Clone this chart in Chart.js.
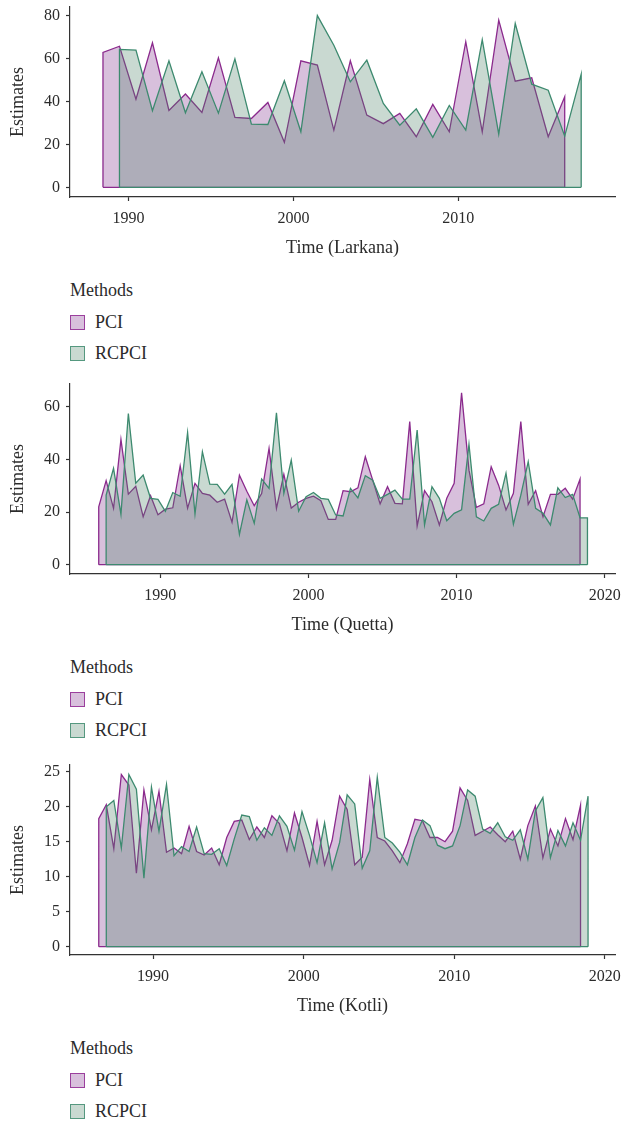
<!DOCTYPE html>
<html>
<head>
<meta charset="utf-8">
<script src="https://cdn.jsdelivr.net/npm/chart.js@4/dist/chart.umd.min.js"></script>
<style>
  body { margin: 0; background: #fff; font-family: "Liberation Serif", serif; color: #2b2b2b; }
  #page { position: relative; width: 622px; height: 1123px; overflow: hidden; }
  canvas { position: absolute; left: 0; }
  .row { position: absolute; left: 70px; height: 22px; line-height: 22px; font-size: 18px; display: flex; align-items: center; white-space: nowrap; }
  .key { width: 13px; height: 13px; border: 1.6px solid; margin-right: 10px; }
  .key.pci { background: rgb(216,192,220); border-color: #9b3f9d; }
  .key.rcpci { background: rgb(201,217,209); border-color: #55987f; }
</style>
</head>
<body>
<div id="page">
  <canvas id="larkana" width="622" height="259" style="top:0px"></canvas>
  <canvas id="quetta" width="622" height="259" style="top:377px"></canvas>
  <canvas id="kotli" width="622" height="259" style="top:758px"></canvas>

  <div class="row" style="top:279px">Methods</div>
  <div class="row" style="top:311px"><span class="key pci"></span>PCI</div>
  <div class="row" style="top:342px"><span class="key rcpci"></span>RCPCI</div>

  <div class="row" style="top:656px">Methods</div>
  <div class="row" style="top:688px"><span class="key pci"></span>PCI</div>
  <div class="row" style="top:719px"><span class="key rcpci"></span>RCPCI</div>

  <div class="row" style="top:1037px">Methods</div>
  <div class="row" style="top:1069px"><span class="key pci"></span>PCI</div>
  <div class="row" style="top:1100px"><span class="key rcpci"></span>RCPCI</div>
</div>
<script>
// Larkana, yearly
const larkanaPCI = [62.9, 65.8, 41.1, 67.4, 35.9, 43.5, 34.9, 60.4, 32.6, 32.1, 39.6, 21.0, 59.0, 57.0, 26.7,
  59.0, 33.7, 29.7, 34.5, 23.6, 38.7, 25.9, 67.9, 25.9, 78.0, 49.5, 51.1, 23.6, 42.2]
const larkanaRCPCI = [64.3, 64.0, 35.7, 59.0, 34.8, 53.9, 34.6, 59.9, 29.5, 29.3, 49.7, 25.9, 80.1, 66.3, 49.2,
  59.3, 39.1, 29.0, 36.6, 23.3, 38.2, 26.7, 68.9, 24.8, 76.4, 48.1, 45.3, 23.9, 52.8]

// Quetta, half-yearly
const quettaPCI = [22.0, 31.9, 21.4, 47.6, 26.8, 29.8, 18.2, 26.2, 19.0, 21.1, 21.6, 37.6, 21.5, 30.9, 27.1, 26.4,
  23.7, 24.9, 16.1, 34.0, 27.9, 22.4, 27.0, 44.2, 21.4, 34.3, 21.5, 23.7, 25.2, 26.0, 24.3, 17.2, 17.2, 28.1,
  27.7, 29.2, 41.0, 32.1, 23.1, 29.6, 23.3, 23.1, 54.3, 14.7, 28.1, 23.9, 15.1, 25.2, 30.9, 65.3, 35.9, 21.8,
  23.1, 37.2, 30.2, 20.8, 27.1, 54.3, 22.9, 28.1, 18.2, 26.7, 26.7, 29.0, 24.9, 32.5]
const quettaRCPCI = [26.4, 36.6, 19.1, 57.4, 30.9, 34.0, 25.2, 24.8, 20.3, 27.4, 26.0, 50.2, 19.2, 42.9, 30.6,
  30.5, 26.8, 30.5, 11.5, 24.6, 15.7, 32.5, 29.0, 57.7, 27.1, 39.7, 20.3, 25.8, 27.4, 25.2, 24.8, 18.9, 18.5,
  29.0, 25.4, 33.8, 32.1, 25.2, 26.7, 28.3, 24.9, 24.9, 51.1, 15.1, 29.6, 25.2, 16.7, 19.5, 20.8, 45.7, 18.2,
  16.6, 21.4, 22.9, 34.7, 15.4, 26.4, 39.1, 21.4, 19.5, 15.1, 29.2, 25.5, 26.7, 17.8, 17.8]

// Kotli, half-yearly
const kotliPCI = [18.3, 20.3, 14.0, 24.6, 23.1, 10.5, 22.4, 16.7, 22.2, 13.5, 14.1, 13.3, 17.2, 13.6, 13.1, 14.1,
  11.7, 15.6, 17.9, 18.1, 15.3, 17.1, 15.6, 18.7, 17.6, 13.7, 19.1, 15.6, 11.6, 17.9, 11.7, 15.2, 21.5, 19.6,
  11.7, 12.8, 23.9, 15.6, 15.1, 13.7, 12.0, 14.7, 18.2, 18.0, 15.6, 15.6, 15.0, 16.5, 22.7, 20.9, 15.9, 16.5,
  17.1, 16.0, 15.0, 16.5, 12.5, 17.3, 20.1, 12.7, 16.8, 14.4, 18.3, 15.3, 20.2]
const kotliRCPCI = [20.0, 20.9, 14.1, 24.6, 22.5, 9.8, 22.8, 16.5, 23.2, 13.0, 14.3, 13.6, 17.1, 13.3, 13.2, 14.0,
  11.6, 15.4, 18.8, 18.6, 15.2, 17.0, 15.9, 18.7, 17.2, 13.8, 19.3, 15.9, 12.0, 17.7, 11.1, 14.9, 21.7, 20.4,
  11.2, 13.7, 24.2, 15.6, 14.8, 13.5, 11.7, 15.6, 18.1, 17.3, 14.5, 14.0, 14.4, 17.3, 22.4, 21.5, 16.8, 16.2,
  17.7, 15.7, 15.2, 16.7, 12.5, 19.4, 21.3, 12.7, 16.6, 14.4, 17.7, 15.2, 21.5]

const larkanaTicksX = [1990, 2000, 2010]
const larkanaTicksY = [0, 20, 40, 60, 80]
const quettaTicksX = [1990, 2000, 2010, 2020]
const quettaTicksY = [0, 20, 40, 60]
const kotliTicksX = [1990, 2000, 2010, 2020]
const kotliTicksY = [0, 5, 10, 15, 20, 25]

const pciLine = '#8b2a8d', pciFill = 'rgba(125,45,138,0.3)'
const rcpciLine = '#3d8a6f', rcpciFill = 'rgba(75,128,102,0.3)'
const axisColor = '#333'
const textColor = '#2b2b2b'
const serif = '"Liberation Serif", serif'

// area polygon: vertical sides at both ends plus a baseline stroke
function area(values, start, step, line, fill, order) {
  const pts = values.map((v, i) => ({ x: start + i * step, y: v }))
  const x0 = pts[0].x, x1 = pts[pts.length - 1].x
  const common = { borderColor: line, borderWidth: 1.3, pointRadius: 0, tension: 0 }
  return [
    Object.assign({ data: [{ x: x0, y: 0 }, ...pts, { x: x1, y: 0 }], fill: 'origin', backgroundColor: fill, order: order + 1 }, common),
    Object.assign({ data: [{ x: x0, y: 0 }, { x: x1, y: 0 }], fill: false, order: order }, common)
  ]
}

function makePanel(id, p) {
  new Chart(document.getElementById(id), {
    type: 'line',
    data: {
      datasets: [
        ...area(p.rcpci, p.start + p.step, p.step, rcpciLine, rcpciFill, 1),
        ...area(p.pci, p.start, p.step, pciLine, pciFill, 3)
      ]
    },
    options: {
      responsive: false,
      animation: false,
      devicePixelRatio: 1,
      layout: { padding: { top: 7, right: 7, left: 0, bottom: 0 } },
      plugins: { legend: { display: false }, tooltip: { enabled: false } },
      scales: {
        x: {
          type: 'linear',
          min: p.xMin, max: p.xMax,
          afterBuildTicks: s => { s.ticks = p.xTicks.map(v => ({ value: v })) },
          afterFit: s => { s.height = 62; s.paddingLeft = 0; s.paddingRight = 0 },
          grid: { drawOnChartArea: false, tickLength: 4, tickColor: axisColor, tickWidth: 1.2 },
          border: { color: axisColor, width: 1.2 },
          ticks: { padding: 8, color: textColor, font: { family: serif, size: 16 }, maxRotation: 0, callback: v => String(v) },
          title: { display: true, text: p.xTitle, color: textColor, font: { family: serif, size: 18 }, padding: { top: 0, bottom: 0 } }
        },
        y: {
          min: p.yMin, max: p.yMax,
          afterBuildTicks: s => { s.ticks = p.yTicks.map(v => ({ value: v })) },
          afterFit: s => { s.width = 70; s.paddingTop = 0; s.paddingBottom = 0 },
          grid: { drawOnChartArea: false, tickLength: 4, tickColor: axisColor, tickWidth: 1.2 },
          border: { color: axisColor, width: 1.2 },
          ticks: { padding: 6, color: textColor, font: { family: serif, size: 16 }, callback: v => String(v) },
          title: { display: true, text: 'Estimates', color: textColor, font: { family: serif, size: 18 }, padding: { top: 7, bottom: 0 } }
        }
      }
    }
  })
}

makePanel('larkana', {
  pci: larkanaPCI, rcpci: larkanaRCPCI, start: 1988.45, step: 1,
  xMin: 1986.45, xMax: 2019.5, xTicks: larkanaTicksX,
  yMin: -4.5, yMax: 84.1, yTicks: larkanaTicksY, xTitle: 'Time (Larkana)'
})
makePanel('quetta', {
  pci: quettaPCI, rcpci: quettaRCPCI, start: 1985.84, step: 0.5,
  xMin: 1983.9, xMax: 2020.7, xTicks: quettaTicksX,
  yMin: -3.53, yMax: 68.6, yTicks: quettaTicksY, xTitle: 'Time (Quetta)'
})
makePanel('kotli', {
  pci: kotliPCI, rcpci: kotliRCPCI, start: 1986.39, step: 0.5,
  xMin: 1984.48, xMax: 2020.68, xTicks: kotliTicksX,
  yMin: -1.19, yMax: 25.96, yTicks: kotliTicksY, xTitle: 'Time (Kotli)'
})
</script>
</body>
</html>
